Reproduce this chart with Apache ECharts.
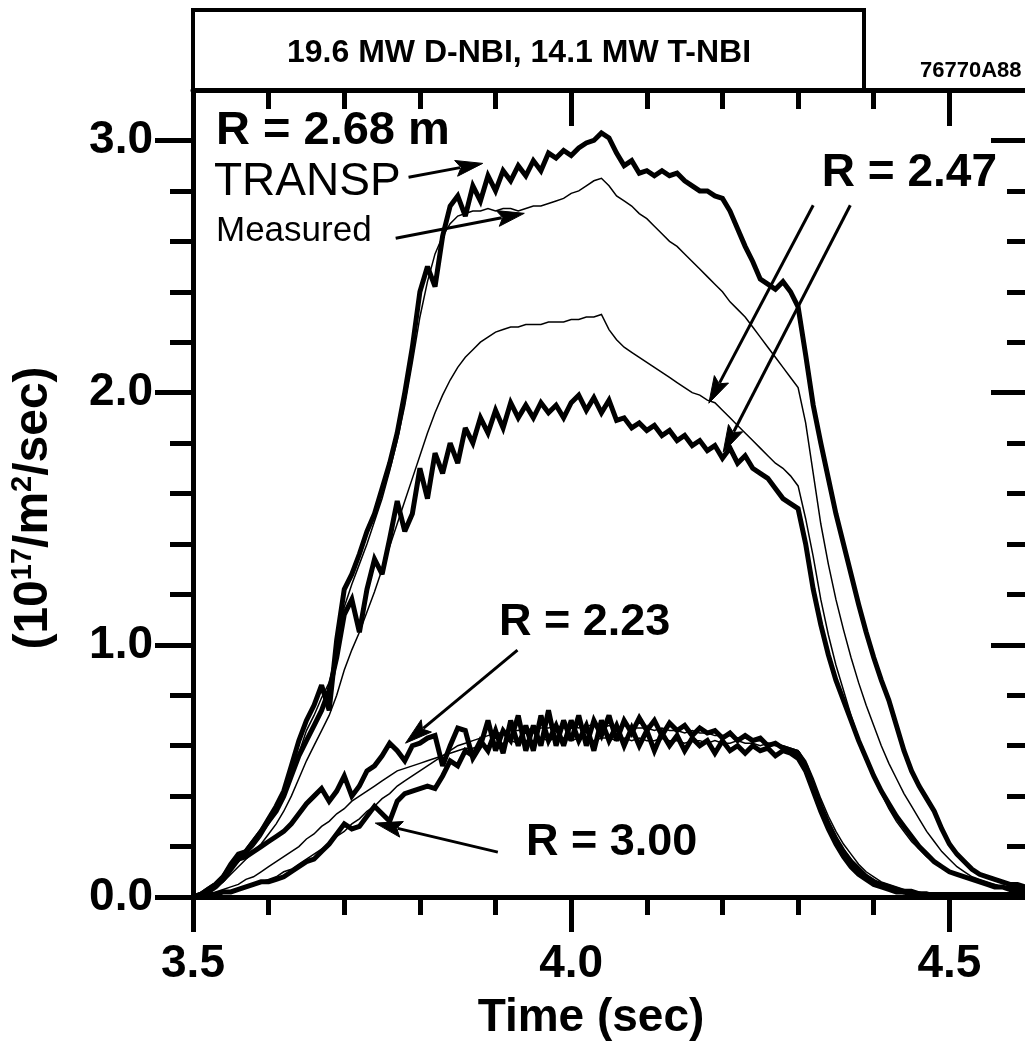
<!DOCTYPE html>
<html>
<head>
<meta charset="utf-8">
<title>Neutron emission profiles</title>
<script src="https://cdn.jsdelivr.net/npm/echarts@6/dist/echarts.min.js"></script>
<style>
  html, body { margin: 0; padding: 0; background: #fff; }
  #chart { width: 1025px; height: 1052px; }
</style>
</head>
<body>
<div id="chart"></div>
<script>
//
// Time base (sec), one sample every 10 ms
//
const time = [
  3.50, 3.51, 3.52, 3.53, 3.54, 3.55, 3.56, 3.57, 3.58, 3.59,
  3.60, 3.61, 3.62, 3.63, 3.64, 3.65, 3.66, 3.67, 3.68, 3.69,
  3.70, 3.71, 3.72, 3.73, 3.74, 3.75, 3.76, 3.77, 3.78, 3.79,
  3.80, 3.81, 3.82, 3.83, 3.84, 3.85, 3.86, 3.87, 3.88, 3.89,
  3.90, 3.91, 3.92, 3.93, 3.94, 3.95, 3.96, 3.97, 3.98, 3.99,
  4.00, 4.01, 4.02, 4.03, 4.04, 4.05, 4.06, 4.07, 4.08, 4.09,
  4.10, 4.11, 4.12, 4.13, 4.14, 4.15, 4.16, 4.17, 4.18, 4.19,
  4.20, 4.21, 4.22, 4.23, 4.24, 4.25, 4.26, 4.27, 4.28, 4.29,
  4.30, 4.31, 4.32, 4.33, 4.34, 4.35, 4.36, 4.37, 4.38, 4.39,
  4.40, 4.41, 4.42, 4.43, 4.44, 4.45, 4.46, 4.47, 4.48, 4.49,
  4.50, 4.51, 4.52, 4.53, 4.54, 4.55, 4.56, 4.57, 4.58, 4.59,
  4.60
]

// R = 2.68 m
const r268Transp = [
  0.00, 0.01, 0.03, 0.05, 0.08, 0.13, 0.17, 0.18, 0.22, 0.26,
  0.31, 0.36, 0.42, 0.52, 0.62, 0.70, 0.76, 0.84, 0.74, 1.02,
  1.22, 1.28, 1.36, 1.45, 1.52, 1.62, 1.72, 1.84, 2.00, 2.18,
  2.40, 2.50, 2.42, 2.62, 2.74, 2.78, 2.70, 2.82, 2.76, 2.86,
  2.80, 2.88, 2.84, 2.90, 2.86, 2.92, 2.88, 2.95, 2.93, 2.96,
  2.94, 2.97, 2.99, 3.00, 3.03, 3.01, 2.95, 2.90, 2.92, 2.87,
  2.88, 2.86, 2.88, 2.86, 2.87, 2.84, 2.82, 2.80, 2.80, 2.78,
  2.77, 2.72, 2.65, 2.58, 2.52, 2.45, 2.43, 2.41, 2.44, 2.40,
  2.34, 2.15, 1.95, 1.80, 1.66, 1.52, 1.40, 1.28, 1.16, 1.05,
  0.95, 0.86, 0.78, 0.68, 0.58, 0.50, 0.44, 0.39, 0.34, 0.27,
  0.21, 0.17, 0.14, 0.11, 0.09, 0.08, 0.07, 0.06, 0.05, 0.05,
  0.04
]
const r268Meas = [
  0.00, 0.01, 0.02, 0.04, 0.07, 0.11, 0.14, 0.17, 0.20, 0.24,
  0.29, 0.34, 0.40, 0.48, 0.57, 0.66, 0.72, 0.79, 0.85, 0.96,
  1.15, 1.24, 1.32, 1.40, 1.49, 1.58, 1.69, 1.81, 1.95, 2.12,
  2.30, 2.44, 2.55, 2.62, 2.67, 2.70, 2.71, 2.72, 2.72, 2.73,
  2.72, 2.73, 2.73, 2.72, 2.73, 2.74, 2.74, 2.75, 2.76, 2.77,
  2.79, 2.80, 2.82, 2.84, 2.85, 2.82, 2.78, 2.76, 2.74, 2.71,
  2.69, 2.66, 2.63, 2.60, 2.58, 2.55, 2.52, 2.49, 2.46, 2.43,
  2.40, 2.36, 2.33, 2.30, 2.26, 2.22, 2.18, 2.14, 2.10, 2.06,
  2.02, 1.88, 1.68, 1.48, 1.32, 1.18, 1.06, 0.95, 0.85, 0.76,
  0.68, 0.60, 0.53, 0.47, 0.41, 0.36, 0.31, 0.26, 0.22, 0.18,
  0.15, 0.12, 0.10, 0.08, 0.07, 0.06, 0.05, 0.04, 0.04, 0.03,
  0.03
]

// R = 2.47 m
const r247Transp = [
  0.00, 0.01, 0.03, 0.05, 0.08, 0.12, 0.15, 0.18, 0.22, 0.26,
  0.30, 0.34, 0.40, 0.48, 0.56, 0.62, 0.68, 0.74, 0.82, 0.95,
  1.12, 1.18, 1.05, 1.22, 1.34, 1.28, 1.42, 1.57, 1.45, 1.52,
  1.70, 1.58, 1.76, 1.68, 1.80, 1.72, 1.86, 1.80, 1.90, 1.84,
  1.93, 1.86, 1.96, 1.90, 1.95, 1.90, 1.96, 1.92, 1.95, 1.90,
  1.96, 1.99, 1.93, 1.98, 1.92, 1.97, 1.89, 1.90, 1.86, 1.88,
  1.85, 1.87, 1.83, 1.85, 1.81, 1.83, 1.79, 1.81, 1.77, 1.79,
  1.74, 1.78, 1.72, 1.75, 1.70, 1.68, 1.66, 1.62, 1.58, 1.56,
  1.54, 1.40, 1.22, 1.08, 0.96, 0.86, 0.78, 0.70, 0.62, 0.55,
  0.48, 0.42, 0.37, 0.32, 0.28, 0.24, 0.20, 0.17, 0.14, 0.12,
  0.10, 0.09, 0.08, 0.07, 0.06, 0.05, 0.04, 0.04, 0.03, 0.03,
  0.03
]
const r247Meas = [
  0.00, 0.01, 0.02, 0.04, 0.06, 0.09, 0.12, 0.15, 0.18, 0.21,
  0.25, 0.29, 0.34, 0.40, 0.47, 0.54, 0.60, 0.66, 0.72, 0.80,
  0.90, 0.98, 1.05, 1.13, 1.21, 1.30, 1.39, 1.48, 1.57, 1.66,
  1.75, 1.84, 1.92, 1.99, 2.05, 2.10, 2.14, 2.17, 2.20, 2.22,
  2.24, 2.25, 2.26, 2.26, 2.27, 2.27, 2.27, 2.28, 2.28, 2.28,
  2.29, 2.29, 2.30, 2.30, 2.31, 2.25, 2.21, 2.18, 2.16, 2.14,
  2.12, 2.10, 2.08, 2.06, 2.04, 2.02, 2.00, 1.99, 1.97, 1.96,
  1.93, 1.90, 1.87, 1.84, 1.81, 1.78, 1.75, 1.72, 1.70, 1.67,
  1.63, 1.50, 1.35, 1.18, 1.04, 0.92, 0.82, 0.72, 0.63, 0.55,
  0.48, 0.41, 0.35, 0.30, 0.26, 0.22, 0.19, 0.16, 0.14, 0.12,
  0.10, 0.09, 0.08, 0.07, 0.06, 0.05, 0.05, 0.04, 0.04, 0.03,
  0.03
]

// R = 2.23 m
const r223Transp = [
  0.00, 0.01, 0.02, 0.04, 0.07, 0.11, 0.15, 0.16, 0.18, 0.20,
  0.22, 0.24, 0.26, 0.29, 0.33, 0.37, 0.40, 0.43, 0.38, 0.42,
  0.48, 0.40, 0.44, 0.50, 0.52, 0.56, 0.61, 0.58, 0.54, 0.60,
  0.61, 0.63, 0.64, 0.52, 0.60, 0.67, 0.66, 0.55, 0.60, 0.70,
  0.58, 0.66, 0.62, 0.72, 0.58, 0.68, 0.60, 0.74, 0.60, 0.70,
  0.62, 0.72, 0.60, 0.70, 0.64, 0.72, 0.62, 0.70, 0.65, 0.71,
  0.66, 0.70, 0.64, 0.69, 0.66, 0.68, 0.64, 0.67, 0.65, 0.66,
  0.63, 0.65, 0.62, 0.64, 0.62, 0.63, 0.60, 0.61, 0.59, 0.58,
  0.57, 0.52, 0.44, 0.36, 0.29, 0.23, 0.18, 0.14, 0.11, 0.08,
  0.06, 0.05, 0.04, 0.03, 0.02, 0.02, 0.01, 0.01, 0.01, 0.01,
  0.01, 0.01, 0.01, 0.01, 0.01, 0.01, 0.01, 0.01, 0.01, 0.01,
  0.01
]
const r223Meas = [
  0.00, 0.01, 0.01, 0.02, 0.03, 0.04, 0.05, 0.07, 0.08, 0.10,
  0.12, 0.14, 0.16, 0.18, 0.20, 0.23, 0.25, 0.28, 0.30, 0.33,
  0.35, 0.38, 0.40, 0.42, 0.44, 0.46, 0.48, 0.50, 0.51, 0.52,
  0.53, 0.54, 0.55, 0.56, 0.57, 0.58, 0.59, 0.59, 0.60, 0.60,
  0.61, 0.61, 0.62, 0.61, 0.62, 0.62, 0.63, 0.62, 0.63, 0.63,
  0.62, 0.63, 0.63, 0.62, 0.63, 0.63, 0.62, 0.63, 0.62, 0.63,
  0.62, 0.62, 0.63, 0.62, 0.62, 0.61, 0.62, 0.62, 0.61, 0.62,
  0.61, 0.61, 0.62, 0.61, 0.61, 0.60, 0.61, 0.60, 0.60, 0.59,
  0.58, 0.54, 0.47, 0.39, 0.32, 0.26, 0.21, 0.17, 0.13, 0.10,
  0.08, 0.06, 0.05, 0.04, 0.03, 0.03, 0.02, 0.02, 0.01, 0.01,
  0.01, 0.01, 0.01, 0.01, 0.01, 0.01, 0.01, 0.01, 0.01, 0.01,
  0.01
]

// R = 3.00 m
const r300Transp = [
  0.00, 0.00, 0.01, 0.01, 0.02, 0.02, 0.03, 0.04, 0.05, 0.06,
  0.06, 0.07, 0.08, 0.10, 0.12, 0.14, 0.15, 0.18, 0.21, 0.25,
  0.29, 0.27, 0.28, 0.32, 0.36, 0.33, 0.30, 0.38, 0.41, 0.42,
  0.43, 0.44, 0.43, 0.48, 0.54, 0.52, 0.58, 0.56, 0.62, 0.58,
  0.66, 0.57, 0.70, 0.60, 0.68, 0.58, 0.72, 0.62, 0.68, 0.60,
  0.70, 0.62, 0.68, 0.58, 0.70, 0.62, 0.68, 0.60, 0.67, 0.60,
  0.66, 0.58, 0.65, 0.60, 0.64, 0.58, 0.63, 0.60, 0.62, 0.57,
  0.62, 0.58, 0.60, 0.57, 0.60, 0.58, 0.59, 0.56, 0.58, 0.57,
  0.55, 0.50, 0.42, 0.34, 0.27, 0.21, 0.16, 0.12, 0.09, 0.07,
  0.05, 0.04, 0.03, 0.02, 0.02, 0.01, 0.01, 0.01, 0.01, 0.01,
  0.01, 0.01, 0.01, 0.01, 0.01, 0.01, 0.01, 0.01, 0.01, 0.01,
  0.01
]
const r300Meas = [
  0.00, 0.00, 0.01, 0.01, 0.02, 0.02, 0.03, 0.04, 0.05, 0.06,
  0.07, 0.08, 0.10, 0.11, 0.13, 0.15, 0.17, 0.19, 0.21, 0.24,
  0.26, 0.29, 0.31, 0.34, 0.36, 0.39, 0.41, 0.44, 0.46, 0.48,
  0.50, 0.52, 0.54, 0.56, 0.58, 0.60, 0.61, 0.62, 0.63, 0.64,
  0.65, 0.65, 0.66, 0.66, 0.67, 0.66, 0.67, 0.67, 0.68, 0.67,
  0.68, 0.67, 0.68, 0.68, 0.67, 0.68, 0.67, 0.68, 0.67, 0.67,
  0.67, 0.66, 0.67, 0.66, 0.66, 0.65, 0.66, 0.65, 0.65, 0.64,
  0.64, 0.64, 0.63, 0.63, 0.62, 0.62, 0.61, 0.61, 0.60, 0.59,
  0.58, 0.53, 0.45, 0.37, 0.30, 0.24, 0.19, 0.15, 0.12, 0.09,
  0.07, 0.05, 0.04, 0.03, 0.03, 0.02, 0.02, 0.01, 0.01, 0.01,
  0.01, 0.01, 0.01, 0.01, 0.01, 0.01, 0.01, 0.01, 0.01, 0.01,
  0.01
]

// axis ticks and labels
const xLabelValues = [3.5, 4.0, 4.5]
const yLabelValues = [0, 1, 2, 3]

// annotation arrows: [fromTime, fromValue, toTime, toValue]
const arrows = [
  [3.785, 2.854, 3.883, 2.909], // TRANSP
  [3.768, 2.612, 3.938, 2.711], // Measured
  [4.320, 2.743, 4.182, 1.958], // R = 2.47 (measured)
  [4.369, 2.743, 4.201, 1.764], // R = 2.47 (TRANSP)
  [3.929, 0.979, 3.781, 0.610], // R = 2.23
  [3.903, 0.178, 3.741, 0.293] // R = 3.00
]

const FONT = '"Liberation Sans", Arial, Helvetica, sans-serif'

function curve (name, values, width) {
  return {
    type: 'line',
    name: name,
    data: time.map((t, i) => [t, values[i]]),
    showSymbol: false,
    symbol: 'none',
    silent: true,
    lineStyle: { color: '#000', width: width, join: 'miter', miterLimit: 3 },
    z: width > 2 ? 2 : 3
  }
}

/**
 * Draw one annotation arrow: a shaft and a filled head at the target end.
 */
function renderArrow (params, api) {
  const from = api.coord([api.value(0), api.value(1)])
  const to = api.coord([api.value(2), api.value(3)])
  const dx = to[0] - from[0]
  const dy = to[1] - from[1]
  const len = Math.sqrt(dx * dx + dy * dy)
  const ux = dx / len
  const uy = dy / len
  const headLen = 27
  const headHalf = 8
  const bx = to[0] - ux * headLen
  const by = to[1] - uy * headLen
  return {
    type: 'group',
    children: [
      {
        type: 'line',
        shape: { x1: from[0], y1: from[1], x2: bx + ux * 4, y2: by + uy * 4 },
        style: { stroke: '#000', lineWidth: 3 }
      },
      {
        type: 'polygon',
        shape: {
          points: [
            [to[0], to[1]],
            [bx - uy * headHalf, by + ux * headHalf],
            [bx + ux * 5, by + uy * 5],
            [bx + uy * headHalf, by - ux * headHalf]
          ]
        },
        style: { fill: '#000', stroke: '#000', lineWidth: 1 }
      }
    ]
  }
}

const chart = echarts.init(document.getElementById('chart'), null, { renderer: 'canvas', width: 1025, height: 1052 })

const axisLabelStyle = {
  color: '#000',
  fontFamily: FONT,
  fontWeight: 'bold',
  fontSize: 46
}

const option = {
  animation: false,
  backgroundColor: '#fff',
  grid: { left: 193, top: 90, width: 838, height: 807, containLabel: false },
  xAxis: [
    {
      type: 'value',
      position: 'bottom',
      min: 3.5,
      max: 4.6,
      interval: 0.5,
      splitLine: { show: false },
      axisLine: { show: true, onZero: false, lineStyle: { color: '#000', width: 5 } },
      axisTick: { show: true, inside: false, length: 35, lineStyle: { color: '#000', width: 5 }, customValues: xLabelValues },
      minorTick: { show: true, splitNumber: 5, length: 18, lineStyle: { color: '#000', width: 5 } },
      axisLabel: Object.assign({ margin: 44, customValues: xLabelValues, formatter: v => v.toFixed(1) }, axisLabelStyle)
    },
    {
      type: 'value',
      position: 'top',
      min: 3.5,
      max: 4.6,
      interval: 0.5,
      splitLine: { show: false },
      axisLine: { show: true, onZero: false, lineStyle: { color: '#000', width: 5 } },
      axisTick: { show: true, inside: true, length: 36, lineStyle: { color: '#000', width: 5 }, customValues: xLabelValues },
      minorTick: { show: true, splitNumber: 5, length: 19, lineStyle: { color: '#000', width: 5 } },
      axisLabel: { show: false }
    }
  ],
  yAxis: [
    {
      type: 'value',
      position: 'left',
      min: 0,
      max: 3.2,
      interval: 1,
      splitLine: { show: false },
      axisLine: { show: true, onZero: false, lineStyle: { color: '#000', width: 5 } },
      axisTick: { show: true, inside: false, length: 38, lineStyle: { color: '#000', width: 5 }, customValues: yLabelValues },
      minorTick: { show: true, splitNumber: 5, length: 23, lineStyle: { color: '#000', width: 5 } },
      axisLabel: Object.assign({ margin: 40, customValues: yLabelValues, formatter: v => v.toFixed(1) }, axisLabelStyle)
    },
    {
      type: 'value',
      position: 'right',
      min: 0,
      max: 3.2,
      interval: 1,
      splitLine: { show: false },
      axisLine: { show: false },
      axisTick: { show: true, inside: true, length: 34, lineStyle: { color: '#000', width: 5 }, customValues: yLabelValues },
      minorTick: { show: true, splitNumber: 5, length: 18, lineStyle: { color: '#000', width: 5 } },
      axisLabel: { show: false }
    }
  ],
  graphic: [
    // header box above the plot
    {
      type: 'rect',
      shape: { x: 193, y: 10, width: 671, height: 81 },
      style: { fill: 'none', stroke: '#000', lineWidth: 4 }
    },
    {
      type: 'text',
      style: { text: '19.6 MW D-NBI, 14.1 MW T-NBI', x: 519, y: 53, align: 'center', verticalAlign: 'middle', font: 'bold 32px ' + FONT, fill: '#000' }
    },
    {
      type: 'text',
      style: { text: '76770A88', x: 920, y: 71, align: 'left', verticalAlign: 'middle', font: 'bold 22px ' + FONT, fill: '#000' }
    },
    // curve labels
    {
      type: 'text',
      style: { text: 'R = 2.68 m', x: 216, y: 131, align: 'left', verticalAlign: 'middle', font: 'bold 47px ' + FONT, fill: '#000' }
    },
    {
      type: 'text',
      style: { text: 'TRANSP', x: 214, y: 182, align: 'left', verticalAlign: 'middle', font: '46px ' + FONT, fill: '#000' }
    },
    {
      type: 'text',
      style: { text: 'Measured', x: 216, y: 231, align: 'left', verticalAlign: 'middle', font: '35px ' + FONT, fill: '#000' }
    },
    {
      type: 'text',
      style: { text: 'R = 2.47', x: 997, y: 173, align: 'right', verticalAlign: 'middle', font: 'bold 46px ' + FONT, fill: '#000' }
    },
    {
      type: 'text',
      style: { text: 'R = 2.23', x: 499, y: 623, align: 'left', verticalAlign: 'middle', font: 'bold 45px ' + FONT, fill: '#000' }
    },
    {
      type: 'text',
      style: { text: 'R = 3.00', x: 526, y: 843, align: 'left', verticalAlign: 'middle', font: 'bold 45px ' + FONT, fill: '#000' }
    },
    // axis titles
    {
      type: 'text',
      style: { text: 'Time (sec)', x: 591, y: 1018, align: 'center', verticalAlign: 'middle', font: 'bold 46px ' + FONT, fill: '#000' }
    },
    {
      type: 'text',
      x: 34,
      y: 508,
      rotation: Math.PI / 2,
      style: {
        text: '{a|(10}{s|17}{a|/m}{s|2}{a|/sec)}',
        x: 0,
        y: 0,
        align: 'center',
        verticalAlign: 'middle',
        rich: {
          a: { font: 'bold 48px ' + FONT, fill: '#000', lineHeight: 52 },
          s: { font: 'bold 29px ' + FONT, fill: '#000', lineHeight: 29, verticalAlign: 'top' }
        }
      }
    }
  ],
  series: [
    curve('R=2.68 TRANSP', r268Transp, 5),
    curve('R=2.68 measured', r268Meas, 1.5),
    curve('R=2.47 TRANSP', r247Transp, 5),
    curve('R=2.47 measured', r247Meas, 1.5),
    curve('R=2.23 TRANSP', r223Transp, 5),
    curve('R=2.23 measured', r223Meas, 1.5),
    curve('R=3.00 TRANSP', r300Transp, 5),
    curve('R=3.00 measured', r300Meas, 1.5),
    {
      type: 'custom',
      name: 'arrows',
      silent: true,
      clip: false,
      z: 5,
      renderItem: renderArrow,
      encode: { x: [0, 2], y: [1, 3] },
      data: arrows
    }
  ]
}

chart.setOption(option)
</script>
</body>
</html>
